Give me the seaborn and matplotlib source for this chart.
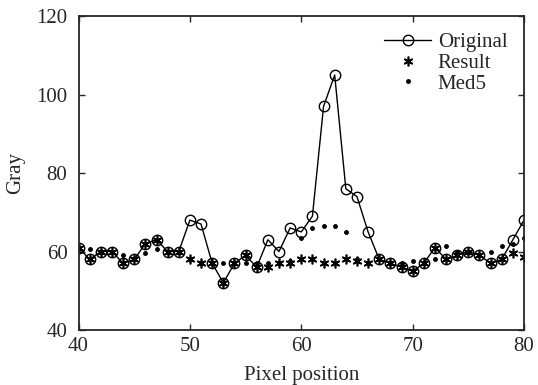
import matplotlib
matplotlib.use("Agg")
import matplotlib.pyplot as plt
import seaborn as sns
import pandas as pd

# data
pixel = list(range(40, 81))
original = [61, 58, 60, 60, 57, 58, 62, 63, 60, 60,
            68, 67, 57, 52, 57, 59, 56, 63, 60, 66,
            65, 69, 97, 105, 76, 74, 65, 58, 57, 56,
            55, 57, 61, 58, 59, 60, 59, 57, 58, 63, 68]
result = [61, 58, 60, 60, 57, 58, 62, 63, 60, 60,
          58, 57, 57, 52, 57, 59, 56, 56, 57, 57,
          58, 58, 57, 57, 58, 57.5, 57, 58, 57, 56,
          55, 57, 61, 58, 59, 60, 59, 57, 58, 59.7, 58.5]
med5 = [61, 60.6, 60, 60, 59, 58, 59.7, 60.6, 60, 60,
        58, 57, 57, 57, 57, 57, 57, 57, 57, 57.5,
        63.4, 66, 66.6, 66.6, 65, 58, 57, 58, 57, 57,
        57.6, 57, 58, 61.5, 60, 60, 59, 60, 61.5, 62, 63.4]

df = pd.DataFrame({'pixel': pixel, 'Original': original,
                   'Result': result, 'Med5': med5})

sns.set_style('ticks')
plt.rcParams['font.family'] = ['Liberation Serif', 'DejaVu Serif']
plt.rcParams['font.size'] = 15
plt.rcParams['xtick.direction'] = 'in'
plt.rcParams['ytick.direction'] = 'in'

fig = plt.figure(figsize=(5.38, 3.85), dpi=100)
ax = fig.add_axes([0.146, 0.143, 0.828, 0.815])

sns.lineplot(data=df, x='pixel', y='Original', ax=ax, color='black',
             lw=1.0, marker='o', markersize=7.5, markerfacecolor='none',
             markeredgecolor='black', markeredgewidth=1.0, label='Original')
ax.plot(df['pixel'], df['Result'], ls='none', marker=(6, 2, 0),
        markersize=7, color='black', markeredgewidth=1.2, label='Result')
ax.plot(df['pixel'], df['Med5'], ls='none', marker='.', markersize=5,
        color='black', label='Med5')

ax.set_xlim(40, 80)
ax.set_ylim(40, 120)
ax.set_xticks([40, 50, 60, 70, 80])
ax.set_yticks([40, 60, 80, 100, 120])
ax.tick_params(top=True, right=True, length=4, width=1, labelsize=15)
ax.tick_params(axis='x', pad=5)
ax.tick_params(axis='y', pad=8)
for s in ax.spines.values():
    s.set_linewidth(1.3)
    s.set_visible(True)

ax.set_xlabel('Pixel position', fontsize=15, labelpad=7)
ax.set_ylabel('Gray', fontsize=15, labelpad=8)

ax.legend(loc='upper right', frameon=False, fontsize=15, handlelength=2.3,
          handletextpad=0.3, labelspacing=0.05, borderaxespad=0.4)

fig.savefig('out.png', dpi=100)
